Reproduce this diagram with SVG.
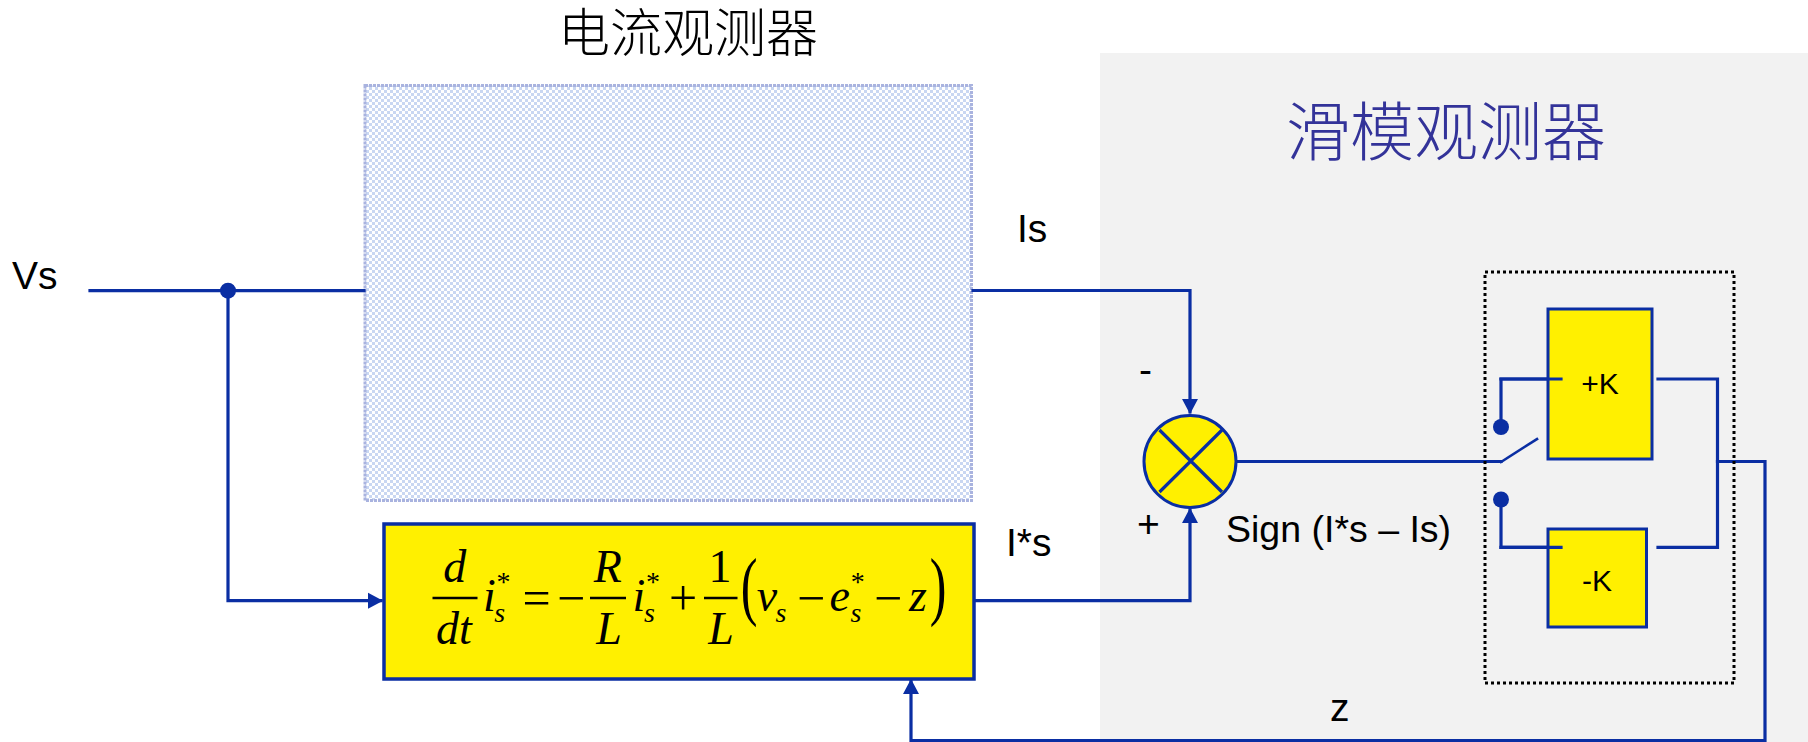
<svg xmlns="http://www.w3.org/2000/svg" width="1808" height="742" viewBox="0 0 1808 742">
<style>
.w{fill:none;stroke:#0a2ea3;stroke-width:3.2;stroke-linecap:square;stroke-linejoin:miter}
.dot{fill:#0a2ea3}
.y{fill:#fff000;stroke:#0a2ea3;stroke-width:3.5}
.l{font-family:"Liberation Sans",Arial,sans-serif;font-size:39px;fill:#000}
.k{font-family:"Liberation Sans",Arial,sans-serif;font-size:30px;fill:#000;text-anchor:middle}
.m{font-family:"Liberation Serif","Times New Roman",serif;font-size:46px;fill:#000;text-anchor:middle}
.o{font-size:50px}
.i{font-style:italic}
.s{font-size:28px}
.b{stroke:#000;stroke-width:2.4}
.t{font-family:"Liberation Serif","Noto Sans CJK SC",sans-serif;font-weight:300;text-anchor:middle}
</style>
<defs>
<pattern id="h" width="6" height="6" patternUnits="userSpaceOnUse">
<rect width="6" height="6" fill="#fff"/>
<rect width="3" height="3" fill="#c9d7f2"/>
<rect x="3" y="3" width="3" height="3" fill="#c9d7f2"/>
</pattern>
<marker id="a" markerUnits="userSpaceOnUse" markerWidth="16" markerHeight="18" refX="13" refY="9" orient="auto">
<path d="M0,1 L15,9 L0,17 Z" fill="#0a2ea3"/>
</marker>
</defs>
<rect id="panel" x="1100" y="53" width="708" height="689" fill="#f2f2f2"/>
<g id="title-current"><text class="t" x="688" y="52" font-size="52" fill="#000">电流观测器</text></g>
<g id="title-smo"><text class="t" x="1446" y="155" font-size="64" fill="#333399">滑模观测器</text></g>
<g id="plant"><rect x="365" y="85.500" width="606.500" height="415" fill="url(#h)" stroke="#a9b3df" stroke-width="3" stroke-dasharray="3 1"/></g>
<g id="connectors">
<path class="w" d="M90,290.7H364"/>
<path class="w" d="M228,290.7V600.7H381" marker-end="url(#a)"/>
<path class="w" d="M973,290.5H1190V412" marker-end="url(#a)"/>
<path class="w" d="M975,600.7H1190V510" marker-end="url(#a)"/>
<path class="w" d="M1236,461.5H1501"/>
<path class="w" d="M1501,462L1537,439" style="stroke-width:2.6"/>
<path class="w" d="M1501,427V379H1561"/>
<path class="w" d="M1501,499V547.3H1561"/>
<path class="w" d="M1658,379H1717.5V547.3H1658"/>
<path class="w" d="M1717.5,461.5H1765V740.7H911V681" marker-end="url(#a)"/>
</g>
<g id="junction"><circle class="dot" cx="228" cy="290.7" r="8"/></g>
<g id="contact-top"><circle class="dot" cx="1501" cy="427" r="8"/></g>
<g id="contact-bottom"><circle class="dot" cx="1501" cy="499.5" r="8"/></g>
<g id="observer-eq">
<rect class="y" x="384" y="524" width="590" height="155"/>
<path class="b" d="M432.5,598H477.5M590,598H626M704,598H737.5"/>
<text class="m i" x="454.7" y="582">d</text>
<text class="m i" x="454" y="644">dt</text>
<text class="m i" x="489.4" y="611">i</text>
<text class="m s" x="503.5" y="591">*</text>
<text class="m i s" x="499.6" y="622">s</text>
<text class="m o" x="536.5" y="615">=</text>
<text class="m o" x="571" y="615">−</text>
<text class="m i" x="607.8" y="582">R</text>
<text class="m i" x="609" y="644">L</text>
<text class="m i" x="638.8" y="611">i</text>
<text class="m s" x="653" y="591">*</text>
<text class="m i s" x="649.4" y="622">s</text>
<text class="m o" x="683" y="615">+</text>
<text class="m" x="720" y="582">1</text>
<text class="m i" x="721" y="644">L</text>
<text class="m" style="font-size:76px" transform="translate(749,611) scale(.66,1)">(</text>
<text class="m i" x="767" y="611">v</text>
<text class="m i s" x="781" y="622">s</text>
<text class="m o" x="811" y="615">−</text>
<text class="m i" x="839.6" y="611">e</text>
<text class="m s" x="857.7" y="591">*</text>
<text class="m i s" x="856" y="622">s</text>
<text class="m o" x="888" y="615">−</text>
<text class="m i" x="918" y="611">z</text>
<text class="m" style="font-size:76px" transform="translate(938,611) scale(.66,1)">)</text>
</g>
<g id="summer">
<circle class="y" cx="1190" cy="461.5" r="46" style="stroke-width:3"/>
<path class="w" d="M1159.5,430L1222,492M1222,430L1159.5,492" style="stroke-linecap:butt"/>
</g>
<g id="switch-box"><rect x="1485" y="272" width="249" height="411" fill="none" stroke="#000" stroke-width="3" stroke-dasharray="3 3"/></g>
<g id="plus-k"><rect class="y" x="1548" y="309" width="104" height="150" style="stroke-width:3"/><text class="k" x="1600" y="394">+K</text></g>
<g id="minus-k"><rect class="y" x="1548" y="529" width="98.500" height="98" style="stroke-width:3"/><text class="k" x="1597" y="591">-K</text></g>
<path class="w" d="M1501,379H1561M1501,547.3H1561"/>
<g id="labels">
<text class="l" x="12" y="289">Vs</text>
<text class="l" x="1017" y="242">Is</text>
<text class="l" x="1006" y="556">I*s</text>
<text class="l" x="1139" y="383">-</text>
<text class="l" x="1137" y="537">+</text>
<text class="l" x="1226" y="542" style="font-size:37.500px">Sign (I*s – Is)</text>
<text class="l" x="1330" y="721">z</text>
</g>
</svg>
